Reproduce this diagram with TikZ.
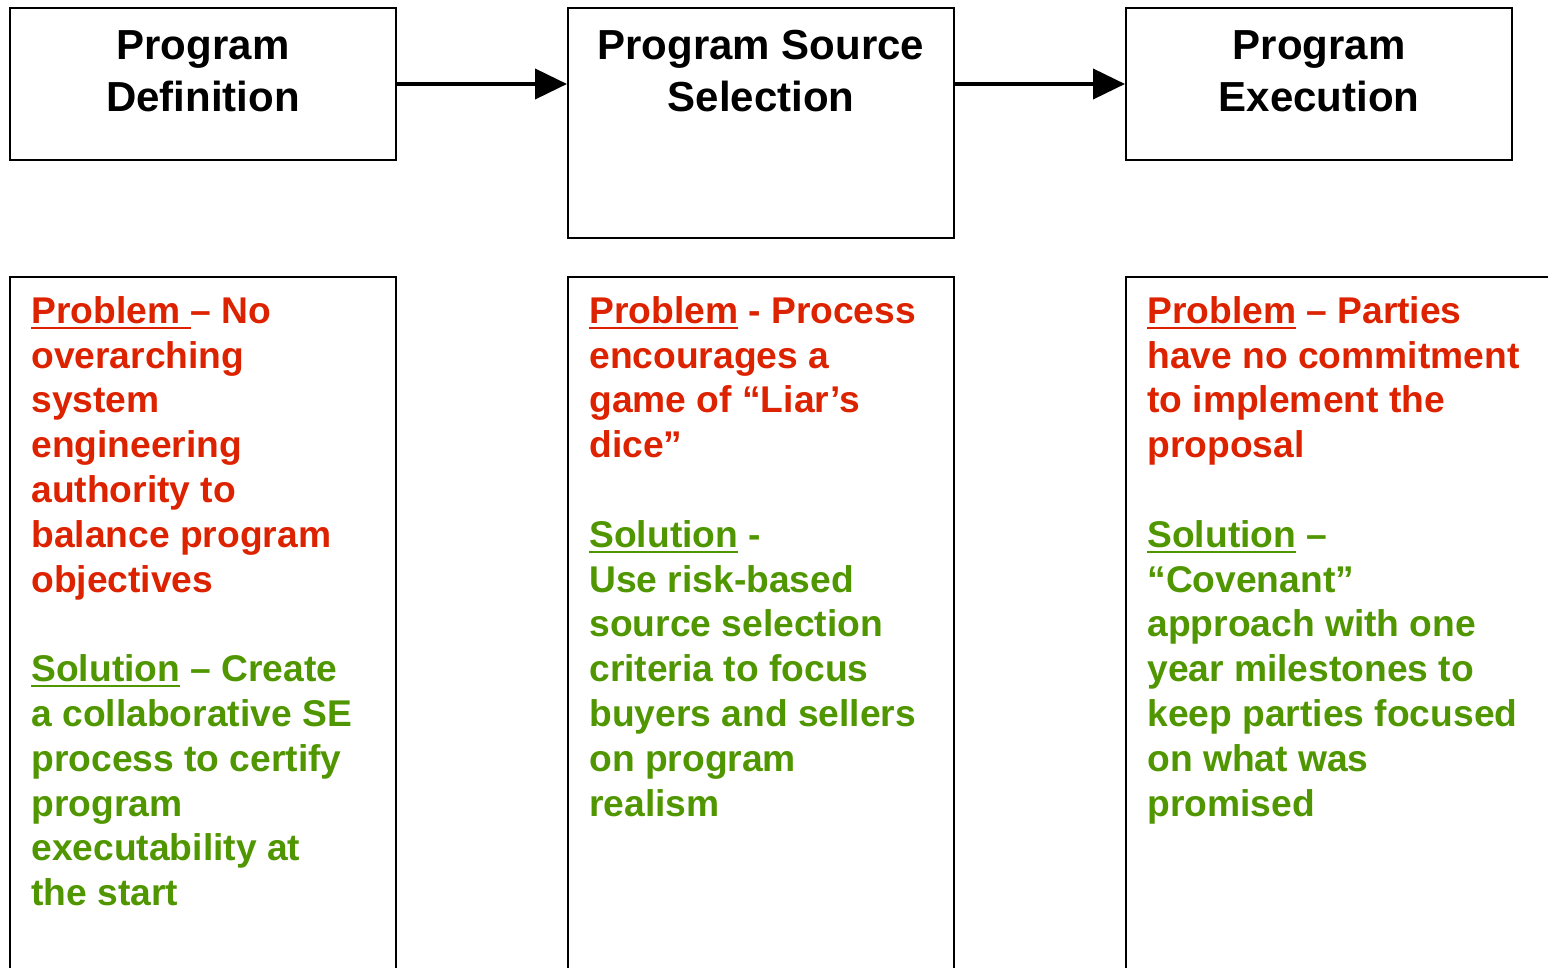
\documentclass[tikz,border=0pt]{standalone}
\usepackage{fontspec}
\setmainfont{Liberation Sans}
\usetikzlibrary{arrows.meta,positioning}

\definecolor{probrot}{RGB}{221,34,0}
\definecolor{loesgruen}{RGB}{79,150,0}

\newcommand\uln[1]{\setbox0\hbox{#1}\rlap{\rule[-2.6pt]{\wd0}{1pt}}\box0\relax}

\begin{document}
\begin{tikzpicture}[x=0.5pt,y=-0.5pt,
	kasten/.style={draw,line width=1pt,minimum width=193pt,inner sep=0pt},
	titel/.style={anchor=north,inner sep=0pt,align=center,font=\bfseries\fontsize{21}{26}\selectfont},
	feldtext/.style={anchor=north west,inner sep=0pt,align=left,font=\bfseries\fontsize{18.6}{22.4}\selectfont},
	pfeil/.style={line width=2pt,-{Triangle[length=16pt,width=15pt]}}]

\useasboundingbox (0,0) rectangle (1548,968);

% obere Kaesten
\node[kasten,minimum height=76pt] (def) at (203,84) {};
\node[kasten,minimum height=115pt] (src) at (761,123) {};
\node[kasten,minimum height=76pt] (exe) at (1319,84) {};

\node[titel] (deftitel) at (203,30) {Program\\Definition};
\node[titel] (srctitel) at (761,30) {Program Source\\Selection};
\node[titel] (exetitel) at (1319,30) {Program\\Execution};

\draw[pfeil] (def.east) -- (src.west |- def.east);
\draw[pfeil] (src.east |- exe.west) -- (exe.west);

% untere Kaesten
\draw[line width=1pt] (10,1000) -- (10,277) -- (396,277) -- (396,1000);
\draw[line width=1pt] (568,1000) -- (568,277) -- (954,277) -- (954,1000);
\draw[line width=1pt] (1126,1000) -- (1126,277) -- (1600,277);

% Definition
\node[feldtext,text=probrot] (defprob) at (31,296) {\uln{Problem }– No\\overarching\\system\\engineering\\authority to\\balance program\\objectives};
\node[feldtext,text=loesgruen] (defloes) at (31,654.4) {\uln{Solution} – Create\\a collaborative SE\\process to certify\\program\\executability at\\the start};

% Source Selection
\node[feldtext,text=probrot] (srcprob) at (589,296) {\uln{Problem} - Process\\encourages a\\game of “Liar’s\\dice”};
\node[feldtext,text=loesgruen] (srcloes) at (589,520) {\uln{Solution} -\\Use risk-based\\source selection\\criteria to focus\\buyers and sellers\\on program\\realism};

% Execution
\node[feldtext,text=probrot] (exeprob) at (1147,296) {\uln{Problem} – Parties\\have no commitment\\to implement the\\proposal};
\node[feldtext,text=loesgruen] (exeloes) at (1147,520) {\uln{Solution} –\\“Covenant”\\approach with one\\year milestones to\\keep parties focused\\on what was\\promised};

\end{tikzpicture}
\end{document}
